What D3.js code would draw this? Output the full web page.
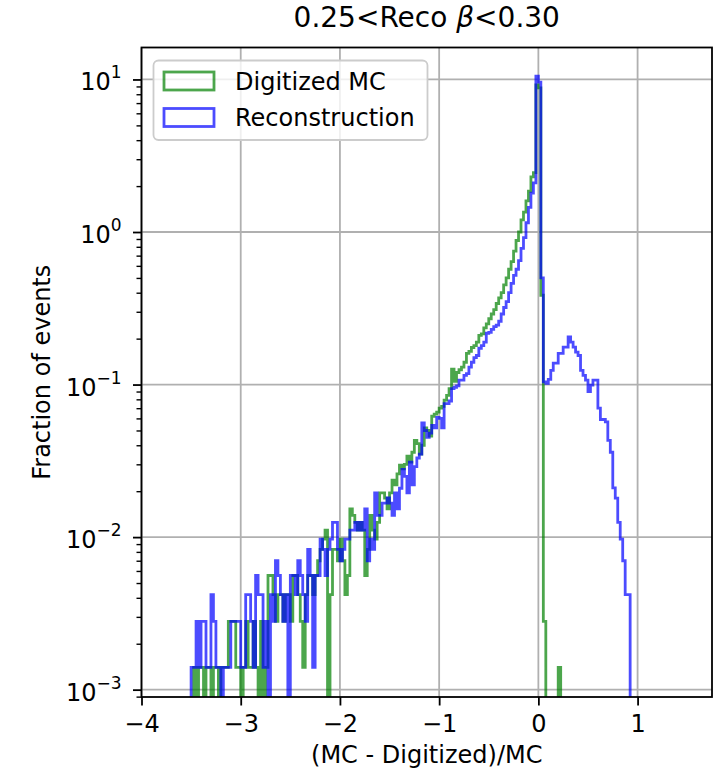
<!DOCTYPE html>
<html>
<head>
<meta charset="utf-8">
<script src="https://cdn.jsdelivr.net/npm/d3@7"></script>
<style>
body { margin: 0; background: #fff; }
text { font-family: "DejaVu Sans", sans-serif; fill: #000; }
</style>
</head>
<body>
<svg id="chart" width="719" height="775"></svg>
<script>
// histogram bins: left edge of first bin and bin width
const binStart = -3.55;
const binWidth = 0.025;

// fraction of events per bin
const digitizedMC = [
  0, 0, 0, 0.0014, 0, 0.0014, 0.0014, 0, 0.0014, 0.0014,
  0, 0.0014, 0.0014, 0, 0.0014, 0.0014, 0.0014, 0.0028, 0.0028, 0.0028,
  0.0014, 0.0014, 0, 0.0014, 0.0028, 0.0014, 0.0014, 0.0028, 0.0014, 0,
  0.0028, 0, 0.0014, 0.0056, 0.0056, 0.0042, 0.0028, 0.0042, 0.0042, 0.0028,
  0.0042, 0.0042, 0.0028, 0.0056, 0.0056, 0.0042, 0.0028, 0.0014, 0.0042, 0.0056,
  0.0056, 0.0042, 0.0056, 0.007, 0.0083, 0.0097, 0.0111, 0, 0.0042, 0.0083,
  0.0083, 0.007, 0.0097, 0.007, 0.0042, 0.0056, 0.0153, 0.0139, 0.0125, 0.0111,
  0.0125, 0.0111, 0.0056, 0.0083, 0.0139, 0.0111, 0.0097, 0.0125, 0.0195, 0.0195,
  0.018, 0.0153, 0.0195, 0.0236, 0.022, 0.026, 0.0296, 0.028, 0.03, 0.034,
  0.031, 0.036, 0.043, 0.041, 0.035, 0.04, 0.052, 0.05, 0.046, 0.062,
  0.064, 0.066, 0.07, 0.072, 0.079, 0.085, 0.094, 0.126, 0.105, 0.12,
  0.125, 0.13, 0.14, 0.16, 0.165, 0.175, 0.18, 0.19, 0.21, 0.215,
  0.235, 0.25, 0.27, 0.29, 0.31, 0.34, 0.37, 0.40, 0.45, 0.50,
  0.57, 0.64, 0.75, 0.88, 1.0, 1.2, 1.35, 1.6, 1.85, 2.3,
  2.45, 9.2, 8.8, 0.385, 0.0028, 0, 0, 0, 0, 0,
  0.0014, 0, 0, 0, 0, 0, 0, 0, 0, 0,
  0, 0, 0, 0, 0, 0, 0, 0, 0, 0,
  0, 0, 0, 0, 0, 0, 0, 0, 0, 0,
  0, 0
];

const reconstruction = [
  0, 0, 0.0014, 0.0014, 0.0028, 0.0014, 0.0028, 0.0028, 0.0014, 0.0014,
  0.0042, 0.0028, 0.0014, 0.0014, 0, 0.0014, 0.0014, 0.0014, 0.0028, 0.0028,
  0.0028, 0.0028, 0.0014, 0.0014, 0.0042, 0.0042, 0.0028, 0.0014, 0.0056, 0.0042,
  0.0042, 0.0014, 0.0028, 0, 0.0042, 0.0028, 0.007, 0.0056, 0.0042, 0.0028,
  0.0042, 0, 0.0056, 0.0056, 0.0042, 0.007, 0.0056, 0.0042, 0.0028, 0.0083,
  0.0056, 0.0014, 0.0056, 0.0056, 0.0097, 0.0083, 0.0056, 0.0083, 0.0097, 0.0125,
  0.0125, 0.0083, 0.007, 0.0083, 0.0097, 0.0097, 0.0111, 0.0111, 0.0125, 0.0111,
  0.0125, 0.0111, 0.0153, 0.007, 0.0097, 0.0083, 0.0195, 0.0139, 0.0139, 0.0167,
  0.0167, 0.0181, 0.0167, 0.0139, 0.0195, 0.0153, 0.0209, 0.0278, 0.025, 0.0195,
  0.031, 0.022, 0.029, 0.033, 0.035, 0.056, 0.05, 0.045, 0.048, 0.054,
  0.052, 0.061, 0.06, 0.052, 0.075, 0.075, 0.078, 0.094, 0.096, 0.098,
  0.107, 0.107, 0.115, 0.118, 0.13, 0.14, 0.15, 0.155, 0.173, 0.18,
  0.19, 0.217, 0.22, 0.23, 0.24, 0.245, 0.26, 0.29, 0.32, 0.35,
  0.40, 0.46, 0.52, 0.57, 0.65, 0.78, 0.92, 1.15, 1.45, 1.8,
  2.1, 10.5, 9.6, 0.5, 0.104, 0.102, 0.108, 0.124, 0.138, 0.138,
  0.16, 0.16, 0.176, 0.176, 0.205, 0.19, 0.176, 0.163, 0.155, 0.124,
  0.115, 0.107, 0.09, 0.099, 0.107, 0.107, 0.07, 0.059, 0.059, 0.057,
  0.043, 0.036, 0.021, 0.018, 0.0125, 0.0097, 0.007, 0.0042, 0.0042, 0,
  0, 0
];

const seriesNames = ['Digitized MC', 'Reconstruction'];
const seriesColors = ['green', 'blue'];
const xTicks = [-4, -3, -2, -1, 0, 1];
const yTickExps = [-3, -2, -1, 0, 1];
const xDomain = [-4, 1.75];
const yDomain = [8.95e-4, 16.2];

const margin = {left: 141.5, right: 7, top: 47.5, bottom: 78};
const width = 719, height = 775;

const svg = d3.select('#chart');

let x = d3.scaleLinear()
    .domain(xDomain)
    .range([margin.left, width - margin.right]);

let y = d3.scaleLog()
    .domain(yDomain)
    .range([height - margin.bottom, margin.top]);

const fmtNum = d => (d < 0 ? '\u2212' : '') + Math.abs(d);

svg.append('defs').append('clipPath').attr('id', 'plot-clip')
    .append('rect')
    .attr('x', margin.left)
    .attr('y', margin.top)
    .attr('width', width - margin.left - margin.right)
    .attr('height', height - margin.top - margin.bottom);

// grid
let grid = svg.append('g');
grid.selectAll('.gx').data(xTicks).join('line')
    .attr('x1', d => x(d)).attr('x2', d => x(d))
    .attr('y1', margin.top).attr('y2', height - margin.bottom)
    .attr('stroke', '#b0b0b0').attr('stroke-width', 1.8);
grid.selectAll('.gy').data(yTickExps).join('line')
    .attr('y1', d => y(Math.pow(10, d))).attr('y2', d => y(Math.pow(10, d)))
    .attr('x1', margin.left).attr('x2', width - margin.right)
    .attr('stroke', '#b0b0b0').attr('stroke-width', 1.8);

// step histograms (empty bins drop below the axis and get clipped)
const floorVal = 1e-6;
function stepPoints(values) {
    let pts = [[binStart, floorVal]];
    values.forEach((v, i) => pts.push([binStart + i * binWidth, v > 0 ? v : floorVal]));
    let last = values[values.length - 1];
    let end = binStart + values.length * binWidth;
    pts.push([end, last > 0 ? last : floorVal]);
    pts.push([end, floorVal]);
    return pts;
}

let line = d3.line()
    .x(d => x(d[0]))
    .y(d => y(d[1]))
    .curve(d3.curveStepAfter);

let hist = svg.append('g').attr('clip-path', 'url(#plot-clip)');
[digitizedMC, reconstruction].forEach((vals, k) => {
    hist.append('path')
        .attr('d', line(stepPoints(vals)))
        .attr('fill', 'none')
        .attr('stroke', seriesColors[k])
        .attr('stroke-opacity', 0.7)
        .attr('stroke-width', 2.8)
        .attr('stroke-linejoin', 'miter');
});

// axes
let xAxis = d3.axisBottom(x).tickValues(xTicks).tickSize(8.5).tickPadding(8).tickFormat(fmtNum);
let gx = svg.append('g')
    .attr('transform', `translate(0,${height - margin.bottom})`)
    .call(xAxis);
gx.select('.domain').remove();
gx.selectAll('line').attr('stroke', '#000').attr('stroke-width', 1.8);
gx.selectAll('text').attr('font-size', 24).attr('font-family', 'DejaVu Sans').attr('dy', '0.78em');

let minorVals = [];
yTickExps.concat([-4]).forEach(e => {
    for (let m = 2; m <= 9; m++) {
        let v = m * Math.pow(10, e);
        if (v >= yDomain[0] && v <= yDomain[1]) minorVals.push(v);
    }
});
let yMinor = d3.axisLeft(y).tickValues(minorVals).tickSize(5).tickFormat('');
let gym = svg.append('g').attr('transform', `translate(${margin.left},0)`).call(yMinor);
gym.select('.domain').remove();
gym.selectAll('line').attr('stroke', '#000').attr('stroke-width', 1.4);

let yAxis = d3.axisLeft(y).tickValues(yTickExps.map(e => Math.pow(10, e))).tickSize(8.5).tickFormat('');
let gy = svg.append('g').attr('transform', `translate(${margin.left},0)`).call(yAxis);
gy.select('.domain').remove();
gy.selectAll('line').attr('stroke', '#000').attr('stroke-width', 1.8);

let yLabels = svg.append('g').selectAll('text').data(yTickExps).join('text')
    .attr('x', margin.left - 20)
    .attr('y', d => y(Math.pow(10, d)) + 11)
    .attr('text-anchor', 'end')
    .attr('font-size', 24);
yLabels.append('tspan').text('10');
yLabels.append('tspan')
    .attr('font-size', 17)
    .attr('dy', -12)
    .text(d => fmtNum(d));

// frame
svg.append('rect')
    .attr('x', margin.left).attr('y', margin.top)
    .attr('width', width - margin.left - margin.right)
    .attr('height', height - margin.top - margin.bottom)
    .attr('fill', 'none').attr('stroke', '#000').attr('stroke-width', 1.8);

// titles
let title = svg.append('text')
    .attr('x', (margin.left + width - margin.right) / 2)
    .attr('y', 27)
    .attr('text-anchor', 'middle')
    .attr('font-size', 28);
title.append('tspan').text('0.25<Reco ');
title.append('tspan').attr('font-style', 'italic').text('\u03b2');
title.append('tspan').text('<0.30');

svg.append('text')
    .attr('x', (margin.left + width - margin.right) / 2)
    .attr('y', 763)
    .attr('text-anchor', 'middle')
    .attr('font-size', 24)
    .text('(MC - Digitized)/MC');

svg.append('text')
    .attr('transform', `translate(50,${(margin.top + height - margin.bottom) / 2}) rotate(-90)`)
    .attr('text-anchor', 'middle')
    .attr('font-size', 24)
    .text('Fraction of events');

// legend
let legend = svg.append('g');
legend.append('rect')
    .attr('x', 153.5).attr('y', 60.5).attr('width', 274).attr('height', 79.5)
    .attr('rx', 5).attr('ry', 5)
    .attr('fill', '#fff').attr('fill-opacity', 0.8)
    .attr('stroke', '#cccccc').attr('stroke-width', 1.8);
seriesNames.forEach((name, k) => {
    let cy = 81 + k * 36.5;
    legend.append('rect')
        .attr('x', 164).attr('y', cy - 9)
        .attr('width', 50).attr('height', 18)
        .attr('fill', 'none')
        .attr('stroke', seriesColors[k])
        .attr('stroke-opacity', 0.7)
        .attr('stroke-width', 2.8);
    legend.append('text')
        .attr('x', 235).attr('y', cy + 8.5)
        .attr('font-size', 24)
        .text(name);
});
</script>
</body>
</html>
